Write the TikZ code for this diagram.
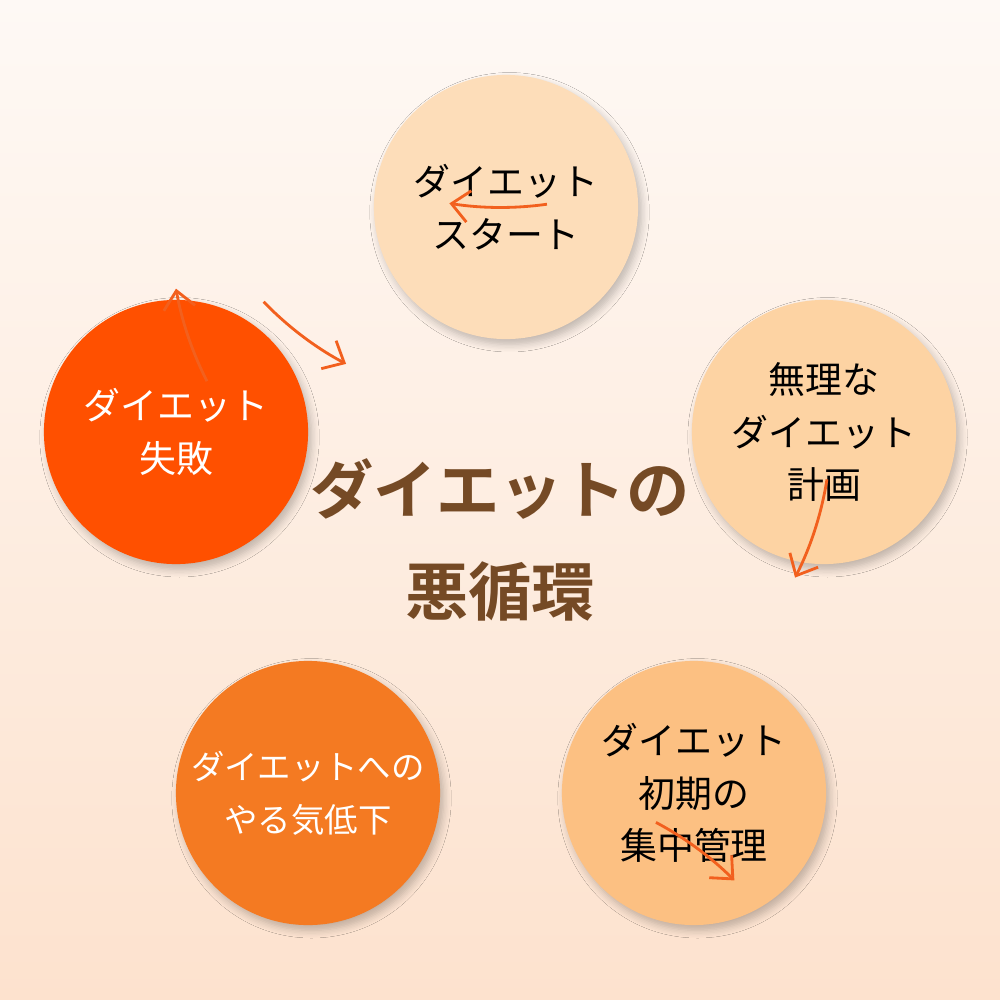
\documentclass[tikz,border=0pt]{standalone}
\usepackage{fontspec}
\setmainfont{Noto Sans CJK JP}
\newfontfamily\titlefont{Noto Sans CJK JP Bold}
\usetikzlibrary{arrows.meta,shadows.blur}
\definecolor{bgtop}{HTML}{FEF9F5}
\definecolor{bgbot}{HTML}{FDE2CE}
\definecolor{cA}{HTML}{FDDDB9}
\definecolor{cB}{HTML}{FDD3A3}
\definecolor{cC}{HTML}{FCC082}
\definecolor{cD}{HTML}{F47A22}
\definecolor{cE}{HTML}{FF5000}
\definecolor{arr}{HTML}{F2601E}
\definecolor{ttl}{HTML}{754A25}
\begin{document}
\begin{tikzpicture}[x=0.01cm,y=-0.01cm,
  stage/.style={circle,minimum size=2.64cm,inner sep=0pt,align=center,font=\fontsize{10.5pt}{15pt}\selectfont,
    blur shadow={shadow blur steps=6,shadow xshift=1pt,shadow yshift=-1.5pt,shadow opacity=25}},
  cyc/.style={draw=arr,line width=0.8pt,-{Straight Barb[length=5pt,width=9pt]}}]
\shade[top color=bgtop,bottom color=bgbot] (0,0) rectangle (1000,1000);
\useasboundingbox (0,0) rectangle (1000,1000);
\node[stage,fill=cA] (s1) at (506,207) {ダイエット\\スタート};
\node[stage,fill=cB] (s2) at (824,432) {無理な\\ダイエット\\計画};
\node[stage,fill=cC] (s3) at (694,793) {ダイエット\\初期の\\集中管理};
\node[stage,fill=cD,text=white,font=\fontsize{9.5pt}{15pt}\selectfont] (s4) at (308,793) {ダイエットへの\\やる気低下};
\node[stage,fill=cE,text=white] (s5) at (176,432) {ダイエット\\失敗};
\node[text=ttl,align=center,font=\titlefont\fontsize{18pt}{29pt}\selectfont] (t) at (500,540) {ダイエットの\\悪循環};
\coordinate (o) at (501,531);
\draw[cyc] ([shift={(62:330)}]o) arc[start angle=-62,end angle=-45,radius=330];
\draw[cyc] ([shift={(-9:330)}]o) arc[start angle=9,end angle=27,radius=330];
\draw[cyc] ([shift={(-82:330)}]o) arc[start angle=82,end angle=99,radius=330];
\draw[cyc] ([shift={(-153:330)}]o) arc[start angle=153,end angle=170,radius=330];
\draw[cyc] ([shift={(-136:330)}]o) arc[start angle=136,end angle=118,radius=330];
\end{tikzpicture}
\end{document}
